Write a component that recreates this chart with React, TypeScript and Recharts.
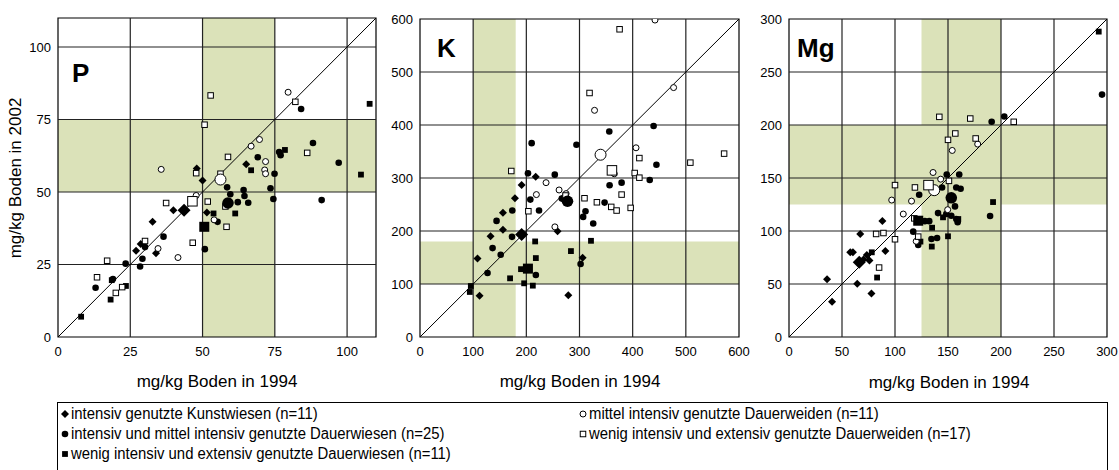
import React from "react";
import {
  ScatterChart,
  Scatter,
  XAxis,
  YAxis,
  ReferenceArea,
  ReferenceLine,
} from "recharts";

type Pt = [number, number];

// P, mg/kg Boden (x = 1994, y = 2002)
const pKunstwiesen: Pt[] = [
  [27, 29.7], [28.6, 32.1], [33.9, 28.9], [32.7, 39.7], [39.9, 43.7],
  [48, 58.1], [50, 54], [51.5, 42.9], [65.1, 59.6],
];
const pDauerwiesen: Pt[] = [
  [13, 17], [19, 20], [23.4, 25.3], [28.4, 24.3], [29.2, 27], [30.1, 31],
  [36.5, 34.6], [50.8, 30.3], [55.2, 39.7], [58.5, 51.6], [59.6, 49.2],
  [64.2, 50.7], [64.5, 48.6], [65.8, 46.3], [62.2, 46.5], [73.5, 51.3],
  [74.5, 47.6], [91.2, 47.2], [69.1, 62], [74.9, 56.3], [76.5, 63.8],
  [77, 62.7], [88.2, 66.9], [97.1, 60.1], [84.1, 78.6],
];
const pDauerwiesenExt: Pt[] = [
  [8, 7], [18.2, 12.9], [23.5, 17.6], [18.6, 19.6], [53.8, 42.6], [61.3, 42.6],
  [66.8, 57.5], [78.5, 64.5], [104.8, 56], [107.8, 80.4],
];
const pWeidenMittel: Pt[] = [
  [34.6, 30.5], [41.5, 27.4], [47.8, 48.8], [54, 40.4], [35.7, 57.8],
  [66.8, 65.8], [69.7, 68.1], [71.8, 60.5], [71.5, 57.6], [71.8, 56.3],
  [79.6, 84.4],
];
const pWeidenExt: Pt[] = [
  [20, 15.2], [22.2, 17.2], [13.5, 20.6], [17, 26.3], [30.1, 33.1],
  [37.4, 46.2], [46.6, 32.5], [47.8, 56.5], [51.8, 46.7], [58.3, 38],
  [57.9, 45], [52.8, 83.3], [50.7, 73.2], [58.8, 62.1], [82.1, 81.1],
  [86.2, 63.5], [56.2, 56.3],
];
// means, in group order
const pMeans: Pt[] = [[43.6, 43.7], [58.8, 46.2], [50.6, 38], [56.2, 54.3], [46.5, 46.8]];

// K
const kKunstwiesen: Pt[] = [
  [217.6, 302.5], [191.2, 286.8], [178.6, 261.8], [156, 234.2], [156, 202.2],
  [132.7, 190.3], [108.2, 148.3], [112, 78], [258.7, 199.7], [305.9, 149.5],
  [278.9, 78.7],
];
const kDauerwiesen: Pt[] = [
  [210, 365.8], [294.3, 362.7], [356, 387.8], [439.4, 398], [444.7, 325],
  [203.1, 308.8], [253.5, 306.3], [207.5, 259.2], [266.7, 261.1],
  [379.2, 291.2], [356.6, 286.2], [432.1, 296.2], [347.2, 253.6],
  [311.3, 237.3], [306.9, 226.6], [325.8, 214.1], [223.9, 238.6],
  [173.6, 238.6], [144, 219.1], [173, 189], [136.5, 167.7], [151.8, 155.2],
  [127, 120.7], [302.1, 137.6], [217.9, 116.9],
];
const kDauerwiesenExt: Pt[] = [
  [95.6, 96.2], [93.7, 85], [216.6, 180.3], [283.9, 162.1], [321.6, 181.5],
  [217.9, 148.9], [169.4, 110.7], [195.9, 101.3], [212.2, 96.9], [190, 128],
];
const kWeidenMittel: Pt[] = [
  [442, 598], [477, 470.6], [328.3, 427.7], [406.3, 357], [237.1, 291.2],
  [261.6, 277.4], [218.9, 268.7], [274.8, 270.5], [253.7, 207.8], [365.4, 308],
];
const kWeidenExt: Pt[] = [
  [171.7, 313.2], [203.8, 237.3], [309.4, 261.8], [332.7, 254.2],
  [359.7, 245.5], [369.8, 238.6], [379.2, 268.7], [396.2, 243.6],
  [403.8, 309.4], [412.6, 300.6], [412.6, 337.6], [508.5, 329], [572, 346],
  [318.9, 460.4], [375.4, 580.6], [273.7, 267],
];
const kMeans: Pt[] = [[191.2, 193.4], [277.4, 256.1], [203, 129], [339.6, 343.9], [361, 314.4]];

// Mg
const mKunstwiesen: Pt[] = [
  [88.1, 109.4], [67.2, 97.2], [57.8, 79.9], [60.3, 79.9], [73.4, 77.4],
  [70.3, 73], [75.9, 72.1], [90.9, 81.2], [35.9, 54.5], [64.4, 50.2],
  [77.8, 41.1], [40.6, 33.2],
];
const mDauerwiesen: Pt[] = [
  [148.8, 153.3], [160.6, 153.3], [144.4, 141.1], [157.8, 141.1],
  [161.9, 139.8], [122.8, 134.2], [156.6, 123.2], [189.7, 114.1],
  [140.6, 116.9], [148.4, 116], [153.1, 114.4], [157.8, 111.3],
  [159.1, 108.2], [128.2, 109.3], [132.3, 109.3], [117.2, 99.4],
  [134.4, 92.5], [139.7, 93.4], [121.9, 86.8], [191.2, 203], [203.1, 208],
  [295.3, 228.7],
];
const mDauerwiesenExt: Pt[] = [
  [192.5, 127.3], [159.7, 111.3], [145.3, 112.9], [135, 103.1], [150, 95],
  [134.7, 85.3], [124, 90], [78.1, 79.9], [83.1, 56.1], [292.2, 288.1],
];
const mWeidenMittel: Pt[] = [
  [154, 176], [178, 182], [135.9, 155.2], [143.1, 148.9], [96.9, 129.2],
  [115.6, 128.2], [107.8, 116], [149.7, 120.1], [120, 90.3],
];
const mWeidenExt: Pt[] = [
  [141.8, 207.7], [171, 206.1], [212, 203], [156.9, 192], [150, 186],
  [176.1, 187.3], [150.9, 147.3], [100, 143.3], [118.8, 141.1], [82.2, 97.2],
  [89.1, 98.1], [100, 92.2], [121.9, 94.7], [85, 65.5], [118.2, 111.9],
];
const mMeans: Pt[] = [[66.3, 70.5], [153.1, 131.3], [121.9, 109.7], [137, 138.5], [131.6, 143.3]];

const groupKinds = ["diamond", "dot", "square", "ring", "box"] as const;
type Kind = (typeof groupKinds)[number];

const legendLeft = [
  "intensiv genutzte Kunstwiesen (n=11)",
  "intensiv und mittel intensiv genutzte Dauerwiesen (n=25)",
  "wenig intensiv und extensiv genutzte Dauerwiesen (n=11)",
];
const legendRight = [
  "mittel intensiv genutzte Dauerweiden (n=11)",
  "wenig intensiv und extensiv genutzte Dauerweiden (n=17)",
];

const GREEN = "#dbe2b9";
const GRID = "#222";
const FONT = "'Liberation Sans', Arial, sans-serif";

const toXY = (a: Pt[]) => a.map(([x, y]) => ({ x, y }));

function Marker({ kind, cx, cy, big }: { kind: Kind; cx: number; cy: number; big?: boolean }) {
  if (cx == null || cy == null) return null;
  switch (kind) {
    case "diamond": {
      const r = big ? 6.5 : 4;
      return (
        <polygon
          points={`${cx},${cy - r} ${cx + r},${cy} ${cx},${cy + r} ${cx - r},${cy}`}
          fill="#000"
        />
      );
    }
    case "dot":
      return <circle cx={cx} cy={cy} r={big ? 5.8 : 3.3} fill="#000" />;
    case "square": {
      const s = big ? 10 : 5.8;
      return <rect x={cx - s / 2} y={cy - s / 2} width={s} height={s} fill="#000" />;
    }
    case "ring":
      return <circle cx={cx} cy={cy} r={big ? 5.5 : 3} fill="#fff" stroke="#000" strokeWidth={1} />;
    default: {
      const s = big ? 9.5 : 5.5;
      return (
        <rect x={cx - s / 2} y={cy - s / 2} width={s} height={s} fill="#fff" stroke="#000" strokeWidth={1} />
      );
    }
  }
}

type PanelProps = {
  left: number;
  width: number;
  right: number;
  yWidth: number;
  top: number;
  max: number;
  step: number;
  band: [number, number];
  groups: Pt[][];
  means: Pt[];
};

function Panel({ left, width, right, yWidth, top, max, step, band, groups, means }: PanelProps) {
  const ticks: number[] = [];
  for (let v = 0; v <= max; v += step) ticks.push(v);
  const grid = ticks.filter((t) => t > 0 && t < max);
  return (
    <div style={{ position: "absolute", left, top: 0 }}>
      <ScatterChart width={width} height={370} margin={{ top, right, bottom: 3, left: 0 }}>
        <XAxis
          type="number"
          dataKey="x"
          domain={[0, max]}
          ticks={ticks}
          interval={0}
          allowDataOverflow
          tickLine={false}
          axisLine={false}
          height={30}
          tickMargin={4}
          tick={{ fill: "#000", fontSize: 13, fontFamily: FONT }}
        />
        <YAxis
          type="number"
          dataKey="y"
          domain={[0, max]}
          ticks={ticks}
          interval={0}
          allowDataOverflow
          tickLine={false}
          axisLine={false}
          width={yWidth}
          tickMargin={1}
          tick={{ fill: "#000", fontSize: 13, fontFamily: FONT }}
        />
        <ReferenceArea x1={band[0]} x2={band[1]} fill={GREEN} fillOpacity={1} stroke="none" />
        <ReferenceArea y1={band[0]} y2={band[1]} fill={GREEN} fillOpacity={1} stroke="none" />
        {grid.map((g) => (
          <ReferenceLine key={"x" + g} x={g} stroke={GRID} strokeWidth={1.2} />
        ))}
        {grid.map((g) => (
          <ReferenceLine key={"y" + g} y={g} stroke={GRID} strokeWidth={1.2} />
        ))}
        <ReferenceLine segment={[{ x: 0, y: 0 }, { x: max, y: max }]} stroke="#000" strokeWidth={1} />
        <ReferenceArea x1={0} x2={max} y1={0} y2={max} fill="none" stroke="#000" strokeWidth={1.2} />
        {groups.map((g, i) => (
          <Scatter
            key={i}
            data={toXY(g)}
            isAnimationActive={false}
            shape={(p: any) => <Marker kind={groupKinds[i]} cx={p.cx} cy={p.cy} />}
          />
        ))}
        {means.map((m, i) => (
          <Scatter
            key={"m" + i}
            data={toXY([m])}
            isAnimationActive={false}
            shape={(p: any) => <Marker kind={groupKinds[i]} cx={p.cx} cy={p.cy} big />}
          />
        ))}
      </ScatterChart>
    </div>
  );
}

const titleStyle: React.CSSProperties = {
  position: "absolute",
  fontSize: 17,
  fontFamily: FONT,
  color: "#000",
  whiteSpace: "nowrap",
  lineHeight: "20px",
};

const letterStyle: React.CSSProperties = {
  position: "absolute",
  fontSize: 26,
  fontWeight: "bold",
  fontFamily: FONT,
  lineHeight: 1,
  color: "#000",
};

function LegendMark({ kind }: { kind: Kind }) {
  return (
    <svg width={10} height={10} style={{ position: "absolute", left: -1, top: 5 }}>
      <Marker kind={kind} cx={5} cy={5} />
    </svg>
  );
}

function LegendRow({ kind, text, x, y }: { kind: Kind; text: string; x: number; y: number }) {
  return (
    <div style={{ position: "absolute", left: x, top: y, height: 20 }}>
      <LegendMark kind={kind} />
      <span
        style={{
          position: "absolute",
          left: 10,
          top: 0,
          fontSize: 16,
          lineHeight: "20px",
          fontFamily: FONT,
          whiteSpace: "nowrap",
          transform: "scaleX(0.93)",
          transformOrigin: "left center",
        }}
      >
        {text}
      </span>
    </div>
  );
}

export default function App() {
  return (
    <div
      style={{
        position: "absolute",
        left: 0,
        top: 0,
        width: 1119,
        height: 470,
        background: "#fff",
        overflow: "hidden",
      }}
    >
      <Panel left={0} width={379} right={3} yWidth={58} top={18} max={110} step={25} band={[50, 75]} groups={[pKunstwiesen, pDauerwiesen, pDauerwiesenExt, pWeidenMittel, pWeidenExt]} means={pMeans} />
      <Panel left={360} width={395} right={16} yWidth={60} top={19} max={600} step={100} band={[100, 180]} groups={[kKunstwiesen, kDauerwiesen, kDauerwiesenExt, kWeidenMittel, kWeidenExt]} means={kMeans} />
      <Panel left={730} width={389} right={12} yWidth={59} top={19} max={300} step={50} band={[125, 200]} groups={[mKunstwiesen, mDauerwiesen, mDauerwiesenExt, mWeidenMittel, mWeidenExt]} means={mMeans} />

      <div style={{ ...letterStyle, left: 72, top: 60 }}>P</div>
      <div style={{ ...letterStyle, left: 437, top: 35 }}>K</div>
      <div style={{ ...letterStyle, left: 797, top: 35 }}>Mg</div>

      <div style={{ ...titleStyle, left: 217, top: 372, transform: "translateX(-50%)" }}>mg/kg Boden in 1994</div>
      <div style={{ ...titleStyle, left: 580, top: 372, transform: "translateX(-50%)" }}>mg/kg Boden in 1994</div>
      <div style={{ ...titleStyle, left: 949, top: 373, transform: "translateX(-50%)" }}>mg/kg Boden in 1994</div>
      <div
        style={{
          ...titleStyle,
          left: 16,
          top: 178,
          transform: "translate(-50%, -50%) rotate(-90deg)",
        }}
      >
        mg/kg Boden in 2002
      </div>

      <div
        style={{
          position: "absolute",
          left: 57,
          top: 402,
          width: 1049,
          height: 80,
          border: "1px solid #000",
        }}
      >
        {legendLeft.map((t, i) => (
          <LegendRow key={t} kind={groupKinds[i]} text={t} x={3} y={1 + i * 20} />
        ))}
        {legendRight.map((t, i) => (
          <LegendRow key={t} kind={groupKinds[i + 3]} text={t} x={521} y={1 + i * 20} />
        ))}
      </div>
    </div>
  );
}
